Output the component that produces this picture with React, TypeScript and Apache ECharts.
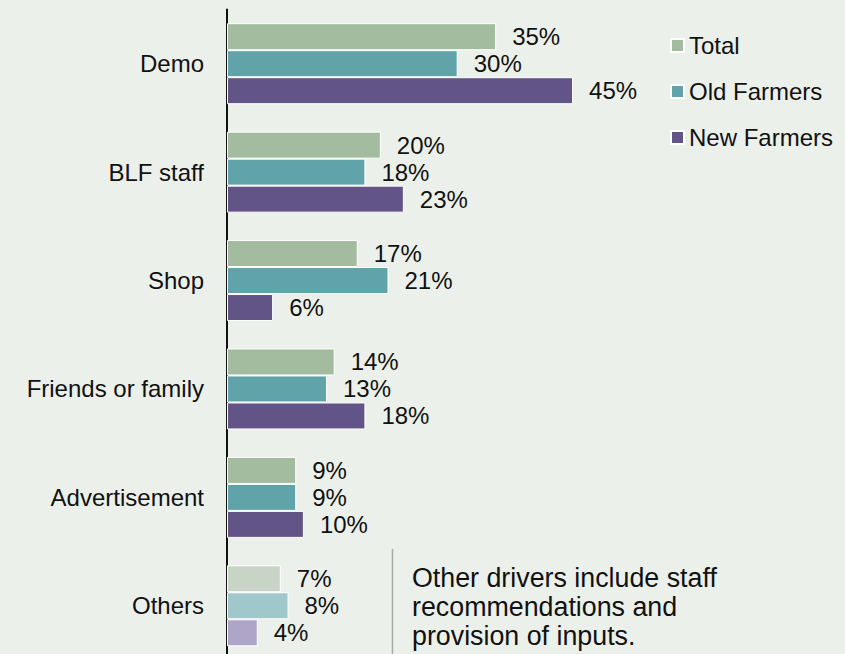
import React, { useEffect, useRef } from "react";
import * as echarts from "echarts";

const categories = ["Demo", "BLF staff", "Shop", "Friends or family", "Advertisement", "Others"];
const totalValues = [35, 20, 17, 14, 9, 7];
const oldFarmerValues = [30, 18, 21, 13, 9, 8];
const newFarmerValues = [45, 23, 6, 18, 10, 4];
const seriesNames = ["Total", "Old Farmers", "New Farmers"];
const noteLines = ["Other drivers include staff", "recommendations and", "provision of inputs."];

const mainColors = ["#a3bb9e", "#60a4aa", "#635487"];
const fadedColors = ["#c8d5c6", "#a0c8cb", "#aea5c9"];
const FONT = "Liberation Sans, Arial, Helvetica, sans-serif";

export default function App() {
  const ref = useRef<HTMLDivElement>(null);

  useEffect(() => {
    document.body.style.margin = "0";
    if (!ref.current) return;
    const chart = echarts.init(ref.current, undefined, { renderer: "svg" });
    const all = [totalValues, oldFarmerValues, newFarmerValues];
    const series = all.map((vals, si) => ({
      name: seriesNames[si],
      type: "bar",
      barWidth: 27,
      barGap: "0%",
      itemStyle: { color: mainColors[si], borderColor: "#ffffff", borderWidth: 1 },
      label: {
        show: true,
        position: "right",
        distance: 16,
        formatter: "{c}%",
        fontSize: 24,
        fontFamily: FONT,
        color: "#111111",
      },
      data: vals.map((v, i) =>
        i === categories.length - 1
          ? { value: v, itemStyle: { color: fadedColors[si] } }
          : v
      ),
    }));

    chart.setOption({
      animation: false,
      backgroundColor: "#ecf0ea",
      textStyle: { fontFamily: FONT },
      grid: { left: 227, width: 384.5, top: 9.5, bottom: 0, containLabel: false },
      legend: {
        orient: "vertical",
        left: 670,
        top: 33.5,
        padding: 0,
        itemWidth: 13,
        itemHeight: 13,
        itemGap: 22,
        icon: "rect",
        selectedMode: false,
        textStyle: { fontSize: 24, fontFamily: FONT, color: "#111111" },
        data: seriesNames,
      },
      xAxis: {
        type: "value",
        min: 0,
        max: 50,
        show: false,
        splitLine: { show: false },
      },
      yAxis: {
        type: "category",
        inverse: true,
        data: categories,
        axisLine: { show: true, lineStyle: { color: "#111111", width: 2 } },
        axisTick: { show: false },
        axisLabel: { fontSize: 24, fontFamily: FONT, color: "#111111", margin: 23 },
      },
      graphic: [
        {
          type: "line",
          shape: { x1: 392.5, y1: 549, x2: 392.5, y2: 660 },
          style: { stroke: "#aaaaaa", lineWidth: 1.5 },
        },
        {
          type: "text",
          left: 412,
          top: 563,
          style: {
            text: noteLines.join("\n"),
            fontSize: 26.8,
            lineHeight: 29,
            fontFamily: FONT,
            fill: "#111111",
          },
        },
      ],
      series,
    });
    return () => chart.dispose();
  }, []);

  return (
    <div style={{ width: 845, height: 654, overflow: "hidden", background: "#ecf0ea" }}>
      <div ref={ref} style={{ width: 845, height: 660 }} />
    </div>
  );
}
